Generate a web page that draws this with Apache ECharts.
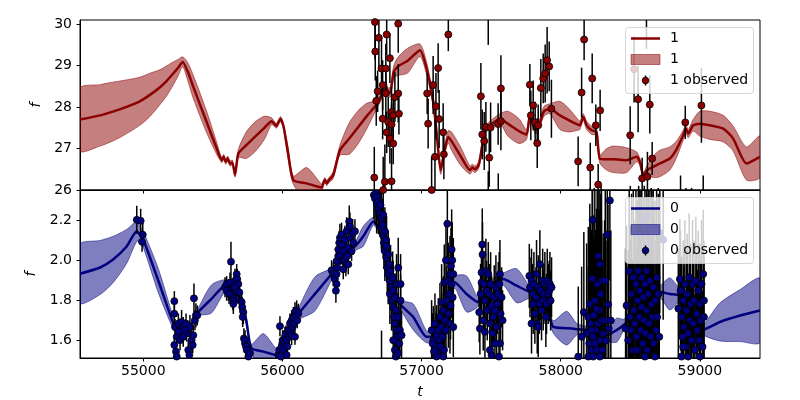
<!DOCTYPE html>
<html><head><meta charset="utf-8">
<script src="https://cdn.jsdelivr.net/npm/echarts@6/dist/echarts.min.js"></script>
<style>html,body{margin:0;padding:0;background:#fff}#c{width:800px;height:400px}</style>
</head><body><div id="c"></div>
<script>
// ---------- tick labels ----------
const xTicks = [55000, 56000, 57000, 58000, 59000];
const yTicksTop = [26, 27, 28, 29, 30];
const yTicksBot = [1.6, 1.8, 2.0, 2.2];

// ---------- model, series "1" (top) ----------
const tTop = [54545,54690,54760,54835,54975,55050,55120,55170,55215,55250,55283,55320,55360,55455,55530,55551,55565,55578,55592,55607,55622,55640,55659,55683,55740,55802,55870,55922,55945,55958,55975,55987,56000,56011,56040,56078,56174,56282,56295,56306,56318,56330,56365,56413,56480,56545,56610,56677,56712,56740,56760,56775,56800,56830,56900,56988,57036,57084,57110,57137,57165,57191,57215,57280,57347,57365,57385,57410,57430,57455,57491,57563,57620,57700,57754,57778,57800,57821,57850,57880,57922,57994,58060,58120,58138,58162,58186,58222,58257,58281,58330,58377,58473,58545,58569,58593,58621,58665,58712,58784,58832,58880,58899,58916,58952,59000,59072,59168,59239,59335,59431];
const meanTop = [27.70,27.80,27.87,27.95,28.14,28.30,28.48,28.64,28.81,28.95,29.09,28.85,28.48,27.64,26.98,26.80,26.72,26.80,26.68,26.76,26.64,26.66,26.37,26.88,27.08,27.28,27.50,27.66,27.58,27.55,27.66,27.71,27.62,27.48,26.90,26.24,26.16,26.06,26.18,26.24,26.16,26.22,26.36,26.96,27.24,27.52,27.80,28.06,28.28,28.52,28.36,28.36,28.85,28.98,29.12,29.37,28.93,28.12,27.30,26.48,26.95,27.28,27.18,26.82,26.48,26.54,26.50,26.60,26.95,27.44,27.56,27.72,27.60,27.42,27.34,27.80,27.60,27.44,27.62,27.90,27.96,27.80,27.68,27.58,27.56,27.76,27.56,27.44,27.40,26.75,26.74,26.74,26.72,26.80,26.68,26.36,26.48,26.56,26.64,26.76,26.98,27.32,27.48,27.36,27.56,27.60,27.56,27.48,27.24,26.64,26.80];
const hwTop = [0.76,0.74,0.72,0.68,0.58,0.52,0.42,0.36,0.28,0.20,0.12,0.22,0.28,0.26,0.14,0.08,0.06,0.06,0.06,0.06,0.06,0.06,0.06,0.10,0.32,0.36,0.28,0.08,0.06,0.06,0.06,0.06,0.06,0.06,0.14,0.10,0.38,0.08,0.06,0.06,0.06,0.06,0.08,0.12,0.38,0.40,0.30,0.10,0.10,0.10,0.10,0.12,0.15,0.22,0.30,0.15,0.15,0.12,0.12,0.10,0.10,0.15,0.22,0.22,0.10,0.08,0.08,0.08,0.10,0.08,0.10,0.12,0.30,0.30,0.12,0.08,0.10,0.10,0.10,0.12,0.12,0.34,0.28,0.14,0.10,0.08,0.10,0.10,0.08,0.10,0.26,0.32,0.30,0.12,0.08,0.06,0.12,0.26,0.32,0.28,0.20,0.12,0.10,0.10,0.14,0.30,0.34,0.32,0.30,0.40,0.50];

// ---------- model, series "0" (bottom) ----------
const tBot = [54545,54690,54785,54880,54953,54975,55000,55108,55216,55240,55270,55300,55330,55360,55395,55490,55588,55640,55700,55740,55776,55862,55958,55985,56030,56070,56115,56233,56353,56400,56450,56521,56581,56653,56700,56740,56790,56844,56940,57035,57083,57130,57190,57239,57323,57407,57430,57500,57586,57683,57778,57850,57900,57945,58042,58113,58160,58230,58330,58401,58450,58520,58600,58712,58784,58856,58920,58980,59012,59144,59290,59431];
const meanBot = [1.934,1.965,2.006,2.07,2.146,2.13,2.105,1.899,1.685,1.655,1.68,1.67,1.66,1.70,1.743,1.808,1.874,1.86,1.80,1.70,1.562,1.545,1.528,1.55,1.62,1.69,1.734,1.833,1.932,1.98,2.03,2.07,2.121,2.195,2.15,2.03,1.88,1.784,1.718,1.619,1.62,1.66,1.78,1.891,1.833,1.792,1.87,1.885,1.907,1.874,1.842,1.83,1.78,1.669,1.662,1.657,1.655,1.645,1.627,1.652,1.677,1.72,1.78,1.842,1.833,1.825,1.78,1.70,1.652,1.693,1.725,1.75];
const hwBot = [0.147,0.135,0.115,0.085,0.05,0.04,0.04,0.06,0.03,0.02,0.02,0.02,0.02,0.02,0.02,0.07,0.03,0.02,0.02,0.02,0.02,0.09,0.03,0.02,0.02,0.02,0.03,0.085,0.03,0.02,0.02,0.02,0.05,0.02,0.02,0.02,0.02,0.02,0.065,0.03,0.02,0.02,0.02,0.03,0.09,0.02,0.02,0.02,0.03,0.085,0.03,0.02,0.02,0.03,0.084,0.03,0.02,0.02,0.03,0.06,0.03,0.02,0.02,0.03,0.08,0.03,0.02,0.02,0.02,0.095,0.13,0.16];

// ---------- observations [t, f, error] ----------
const obsTop = [
 [56665,30.05,0.9],[56667,29.34,0.7],[56693,29.67,0.8],[56674,28.15,0.6],[56684,28.38,0.5],[56720,28.53,0.6],
 [56712,28.93,0.7],[56743,28.93,0.6],[56749,29.75,0.5],[56772,29.18,0.6],[56720,27.72,0.5],[56743,28.33,0.6],
 [56760,27.64,0.6],[56784,27.58,0.5],[56784,27.88,0.6],[56796,27.80,0.5],[56808,28.24,0.6],[56832,28.33,0.7],
 [56837,27.84,0.5],[56749,27.39,0.5],[56772,27.24,0.6],[56796,27.12,0.5],[56832,30.01,0.7],[56660,26.30,0.74],
 [56736,26.20,0.9],[56784,26.21,0.8],[56724,26.00,0.8],[57040,28.33,0.5],[57047,27.60,0.6],[57083,28.53,0.7],
 [57103,28.02,0.8],[57119,28.94,0.6],[57126,27.71,0.7],[57096,26.80,0.9],[57072,26.00,0.8],[57192,29.75,0.4],
 [57155,27.39,0.7],[57160,26.86,0.6],[57426,28.26,0.8],[57436,27.34,0.6],[57450,27.18,0.7],[57462,27.52,0.6],
 [57496,27.51,0.6],[57486,26.78,0.7],[57550,27.59,0.5],[57570,27.66,0.7],[57570,28.45,0.8],[57778,28.54,0.5],
 [57785,27.80,0.6],[57802,28.04,0.6],[57816,27.63,0.5],[57838,27.56,0.5],[57831,27.13,0.6],[57857,28.46,0.7],
 [57874,28.69,0.6],[57888,28.81,0.7],[57902,29.13,0.8],[57917,28.98,0.6],[57933,27.96,0.7],[58168,29.63,0.5],
 [58150,28.35,0.6],[58226,28.69,0.6],[58283,27.92,0.5],[58252,27.56,0.5],[58125,26.69,0.6],[58212,26.54,0.6],
 [58269,26.13,0.5],[58499,27.32,0.7],[58527,28.91,0.8],[58556,28.19,0.8],[58640,28.06,0.7],[58585,26.28,0.5],
 [58623,26.32,0.6],[58657,26.76,0.4],[58895,27.63,0.4],[59011,28.04,0.9],[57479,30.30,0.8],[58616,30.60,1.2],
 [57479,25.70,0.75],[57551,25.60,0.8],[58861,25.60,0.75],[59024,25.60,0.75],[58210,25.40,0.65],[58240,25.30,0.75],
 [58290,25.50,0.6],[58500,25.40,0.7],[58560,25.50,0.6],[58600,25.30,0.8],[58650,25.45,0.6],[58700,25.40,0.65],
 [58900,25.30,0.75],[58940,25.50,0.55]
];
const obsBottom = [
 // ~55000
 [54953,2.203,0.07],[54981,2.198,0.06],[54996,2.129,0.06],[54991,2.093,0.05],
 // 55220-55390
 [55223,1.797,0.05],[55223,1.734,0.05],[55228,1.668,0.04],[55240,1.619,0.05],[55223,1.578,0.04],[55235,1.545,0.05],
 [55252,1.685,0.05],[55264,1.652,0.04],[55275,1.693,0.06],[55287,1.668,0.05],[55307,1.685,0.05],[55311,1.635,0.04],
 [55323,1.553,0.05],[55331,1.528,0.04],[55335,1.668,0.06],[55347,1.602,0.05],[55355,1.578,0.04],[55359,1.627,0.05],
 [55371,1.701,0.05],[55378,1.726,0.06],[55364,1.811,0.074],[55388,1.726,0.05],[55240,1.520,0.04],[55264,1.602,0.05],
 [55287,1.619,0.05],[55252,1.644,0.04],[55299,1.652,0.05],
 // 55590-55770
 [55587,1.866,0.05],[55599,1.882,0.04],[55611,1.849,0.05],[55623,1.890,0.05],[55630,1.994,0.1],[55635,1.833,0.05],
 [55642,1.816,0.06],[55647,1.800,0.05],[55652,1.874,0.05],[55659,1.899,0.06],[55671,1.932,0.05],[55675,1.907,0.05],
 [55683,1.882,0.06],[55666,1.849,0.05],[55690,1.841,0.05],[55695,1.800,0.06],[55707,1.792,0.05],[55711,1.767,0.05],
 [55719,1.742,0.06],[55714,1.718,0.05],[55723,1.611,0.05],[55731,1.586,0.04],[55738,1.570,0.05],[55743,1.553,0.04],
 [55755,1.520,0.05],[55767,1.537,0.04],[55731,1.602,0.05],[55599,1.849,0.05],[55616,1.833,0.05],[55647,1.783,0.05],
 [55659,1.866,0.05],
 // 55970-56115
 [55970,1.528,0.04],[55982,1.672,0.05],[55977,1.553,0.04],[55994,1.570,0.04],[56001,1.602,0.05],[56006,1.545,0.04],
 [56011,1.586,0.04],[56018,1.619,0.05],[56025,1.635,0.04],[56030,1.602,0.04],[56035,1.570,0.04],[56042,1.652,0.05],
 [56049,1.619,0.04],[56054,1.685,0.05],[56059,1.644,0.04],[56066,1.701,0.05],[56073,1.668,0.04],[56078,1.718,0.05],
 [56083,1.685,0.04],[56090,1.742,0.05],[56097,1.726,0.04],[56102,1.751,0.05],[56106,1.701,0.04],[56114,1.734,0.05],
 [55989,1.520,0.04],[56030,1.528,0.04],[56066,1.627,0.05],[56090,1.619,0.04],
 // 56350-56520
 [56353,1.951,0.05],[56365,1.932,0.06],[56377,1.907,0.05],[56384,1.849,0.06],[56389,1.882,0.05],[56394,1.964,0.06],
 [56389,1.997,0.05],[56401,2.022,0.06],[56401,2.055,0.05],[56408,2.088,0.06],[56413,2.113,0.07],[56420,2.030,0.05],
 [56425,2.129,0.06],[56432,2.080,0.05],[56437,2.047,0.06],[56442,1.997,0.05],[56449,2.104,0.07],[56456,1.981,0.06],
 [56461,2.146,0.07],[56466,2.022,0.05],[56473,2.063,0.06],[56480,2.195,0.08],[56485,2.170,0.07],[56490,2.113,0.06],
 [56497,2.047,0.05],[56504,2.137,0.07],[56509,2.088,0.06],[56521,2.146,0.06],[56389,1.932,0.05],[56437,1.956,0.05],
 [56473,1.981,0.05],
 // 56650-56860
 [56657,2.327,0.12],[56665,2.310,0.13],[56672,2.335,0.12],[56677,2.285,0.15],[56684,2.318,0.12],[56689,2.261,0.13],
 [56693,2.294,0.15],[56701,2.236,0.12],[56705,2.277,0.13],[56712,2.211,0.15],[56712,2.162,0.12],[56720,2.178,0.13],
 [56724,2.129,0.12],[56724,2.228,0.15],[56729,2.088,0.13],[56736,2.146,0.12],[56736,2.047,0.15],[56744,2.104,0.13],
 [56748,2.014,0.12],[56748,2.071,0.15],[56753,1.964,0.13],[56760,2.030,0.12],[56760,1.932,0.15],[56767,1.981,0.13],
 [56772,1.899,0.12],[56772,1.833,0.15],[56777,1.948,0.13],[56784,1.866,0.12],[56784,1.800,0.15],[56792,1.915,0.13],
 [56796,1.767,0.12],[56796,1.849,0.15],[56801,1.718,0.13],[56808,1.816,0.12],[56808,1.685,0.15],[56815,1.751,0.13],
 [56820,1.652,0.12],[56820,1.882,0.15],[56825,1.619,0.13],[56832,1.718,0.12],[56832,1.964,0.15],[56839,1.586,0.13],
 [56844,1.652,0.12],[56849,1.882,0.15],[56849,1.800,0.13],[56808,1.553,0.12],[56815,1.520,0.13],[56856,1.627,0.12],
 [56832,1.537,0.13],[56796,1.602,0.12],[56712,1.45,0.2],
 // 57070-57230
 [57072,1.652,0.15],[57084,1.602,0.17],[57096,1.685,0.15],[57103,1.569,0.17],[57108,1.627,0.15],[57113,1.537,0.17],
 [57120,1.652,0.16],[57127,1.602,0.15],[57132,1.718,0.17],[57137,1.569,0.15],[57144,1.668,0.17],[57144,1.792,0.19],
 [57151,1.619,0.15],[57156,1.751,0.17],[57161,1.553,0.15],[57163,1.890,0.19],[57168,1.701,0.17],[57175,1.652,0.15],
 [57175,2.001,0.2],[57180,1.800,0.17],[57185,2.183,0.2],[57192,1.734,0.17],[57192,1.899,0.19],[57199,1.833,0.17],
 [57204,1.685,0.15],[57204,1.932,0.19],[57208,1.775,0.17],[57211,1.973,0.19],[57216,1.882,0.17],[57216,2.055,0.2],
 [57220,2.001,0.19],[57223,1.816,0.17],[57228,1.932,0.18],[57228,1.668,0.15],[57156,1.520,0.15],[57108,1.520,0.15],
 [57089,1.545,0.15],[57079,1.586,0.15],
 // 57410-57585
 [57414,1.742,0.15],[57419,1.660,0.13],[57424,1.833,0.15],[57431,1.890,0.16],[57431,1.940,0.15],[57436,2.080,0.18],
 [57438,2.030,0.16],[57443,1.701,0.15],[57448,1.882,0.16],[57455,1.800,0.15],[57462,1.948,0.16],[57467,1.849,0.15],
 [57472,1.751,0.15],[57479,1.932,0.16],[57486,1.833,0.15],[57491,1.685,0.13],[57496,1.882,0.16],[57503,1.775,0.15],
 [57503,1.528,0.13],[57510,1.635,0.15],[57515,1.718,0.15],[57522,1.816,0.16],[57527,1.751,0.15],[57534,1.866,0.16],
 [57539,1.668,0.15],[57544,1.783,0.15],[57551,1.833,0.16],[57556,1.520,0.13],[57558,1.882,0.16],[57563,1.932,0.17],
 [57568,1.734,0.15],[57575,1.816,0.15],[57582,1.701,0.15],[57563,1.586,0.13],[57527,1.586,0.13],[57491,1.553,0.13],
 [57455,1.644,0.13],
 // 57770-57935
 [57774,1.923,0.16],[57779,1.866,0.15],[57790,1.899,0.16],[57798,1.833,0.15],[57802,1.783,0.15],[57807,1.882,0.16],
 [57814,1.734,0.15],[57822,1.816,0.15],[57826,1.932,0.17],[57831,1.685,0.15],[57838,1.866,0.16],[57846,1.783,0.15],
 [57850,1.981,0.17],[57855,1.849,0.15],[57862,1.751,0.15],[57870,1.899,0.16],[57874,1.800,0.15],[57879,1.833,0.15],
 [57886,1.882,0.16],[57893,1.718,0.15],[57898,1.783,0.15],[57903,1.899,0.16],[57910,1.833,0.15],[57917,1.849,0.15],
 [57922,1.882,0.16],[57927,1.800,0.15],[57934,1.866,0.15],[57790,1.685,0.15],[57838,1.668,0.15],
 // 58125-58370
 [58126,1.520,0.35],[58166,1.742,0.4],[58186,1.635,0.45],[58198,1.718,0.45],[58205,1.586,0.5],[58209,1.783,0.5],
 [58214,1.685,0.5],[58221,1.553,0.45],[58226,1.910,0.5],[58229,2.203,0.5],[58233,1.619,0.5],[58238,1.726,0.5],
 [58245,1.800,0.55],[58250,1.652,0.5],[58257,1.553,0.5],[58262,1.882,0.55],[58269,1.685,0.5],[58269,2.022,0.5],
 [58277,1.751,0.5],[58281,1.602,0.5],[58281,1.981,0.55],[58286,1.833,0.5],[58293,1.701,0.5],[58293,1.899,0.5],
 [58300,1.553,0.45],[58305,1.635,0.5],[58198,1.520,0.45],[58233,1.520,0.5],[58257,1.759,0.5],[58221,1.652,0.5],
 [58245,1.586,0.5],[58281,1.520,0.5],[58353,2.300,0.4],[58334,2.129,0.45],[58150,1.619,0.35],[58315,1.700,0.5],
 [58325,1.600,0.5],[58340,1.780,0.5],[58345,1.660,0.45],[58360,1.700,0.45],[58320,1.900,0.5],
 // 58460-58740
 [58473,1.775,0.4],[58485,1.602,0.45],[58492,1.948,0.5],[58497,1.718,0.45],[58502,1.652,0.45],[58509,1.833,0.5],
 [58516,1.553,0.45],[58521,1.915,0.5],[58526,1.751,0.45],[58533,1.685,0.45],[58540,1.882,0.5],[58545,1.619,0.45],
 [58550,1.800,0.5],[58557,1.948,0.5],[58557,1.553,0.45],[58564,1.718,0.45],[58569,1.849,0.5],[58574,1.652,0.45],
 [58581,1.915,0.5],[58581,1.767,0.45],[58588,1.586,0.45],[58593,1.816,0.5],[58598,1.701,0.45],[58605,1.882,0.5],
 [58612,1.635,0.45],[58617,1.948,0.5],[58617,1.751,0.45],[58621,1.553,0.45],[58629,1.833,0.5],[58636,1.685,0.45],
 [58641,1.899,0.5],[58645,1.619,0.45],[58653,1.783,0.5],[58660,1.718,0.45],[58665,1.866,0.5],[58669,1.586,0.45],
 [58677,1.800,0.5],[58684,1.652,0.45],[58689,1.915,0.5],[58693,1.718,0.45],[58701,1.833,0.5],[58708,1.619,0.45],
 [58581,2.195,0.45],[58617,2.220,0.45],[58665,2.170,0.45],[58712,2.137,0.4],[58736,2.104,0.4],[58629,2.080,0.45],
 [58569,2.129,0.45],[58653,2.129,0.45],[58545,1.553,0.4],[58605,1.520,0.4],[58677,1.520,0.4],[58466,1.660,0.4],
 // 58840-59035
 [58856,1.907,0.3],[58861,1.849,0.3],[58868,1.718,0.3],[58875,1.619,0.28],[58880,1.800,0.3],[58885,1.668,0.3],
 [58892,1.882,0.32],[58899,1.569,0.28],[58904,1.751,0.3],[58909,1.833,0.3],[58916,1.635,0.3],[58923,1.915,0.32],
 [58928,1.701,0.3],[58933,1.783,0.3],[58940,1.602,0.28],[58947,1.882,0.32],[58952,1.685,0.3],[58957,1.800,0.3],
 [58964,1.553,0.28],[58971,1.899,0.32],[58976,1.734,0.3],[58981,1.652,0.3],[58988,1.849,0.3],[58995,1.602,0.28],
 [59000,1.783,0.3],[59005,1.701,0.3],[59012,1.882,0.32],[59019,1.569,0.28],[59024,1.932,0.32],[59029,1.800,0.3],
 [59029,1.718,0.3],[58868,1.520,0.28],[58916,1.520,0.28],[59000,1.520,0.28],[58880,1.569,0.28],[58845,1.760,0.3]
];

// ---------- styles ----------
const RED = '#8b0000', RED_A = 'rgba(139,0,0,0.5)';
const NAVY = '#000080', NAVY_A = 'rgba(0,0,128,0.5)';
const FONT = 'DejaVu Sans';

function bandSeries(idx, ts, means, hws, col) {
  return {
    type: 'custom', xAxisIndex: idx, yAxisIndex: idx, z: 1, clip: true, silent: true,
    data: [[ts[0], means[0]]],
    renderItem: function (params, api) {
      const up = [], lo = [];
      for (let i = 0; i < ts.length; i++) {
        up.push(api.coord([ts[i], means[i] + hws[i]]));
        lo.push(api.coord([ts[i], means[i] - hws[i]]));
      }
      return { type: 'polygon', shape: { points: up.concat(lo.reverse()), smooth: 0.25 },
               style: { fill: col, stroke: col, lineWidth: 1 } };
    }
  };
}
function lineSeries(idx, ts, means, col) {
  return { type: 'line', xAxisIndex: idx, yAxisIndex: idx, z: 2, clip: true, silent: true,
    showSymbol: false, symbol: 'none', smooth: 0.2, data: ts.map((t, i) => [t, means[i]]),
    lineStyle: { color: col, width: 2.5 } };
}
function errSeries(idx, obs, w) {
  return { type: 'custom', xAxisIndex: idx, yAxisIndex: idx, z: 3, clip: true, silent: true,
    data: obs, encode: { x: 0, y: 1 },
    renderItem: function (params, api) {
      const t = api.value(0), f = api.value(1), e = api.value(2);
      const a = api.coord([t, f - e]), b = api.coord([t, f + e]);
      return { type: 'line', shape: { x1: a[0], y1: a[1], x2: b[0], y2: b[1] },
               style: { stroke: '#000', lineWidth: w } };
    } };
}
function ptSeries(idx, obs, col) {
  return { type: 'scatter', xAxisIndex: idx, yAxisIndex: idx, z: 4, clip: true, silent: true,
    data: obs.map(o => [o[0], o[1]]), symbol: 'circle', symbolSize: 7,
    itemStyle: { color: col, borderColor: '#000', borderWidth: 0.8, opacity: 1 } };
}
function xAx(idx, labels) {
  return { type: 'value', gridIndex: idx, min: 54545, max: 59432,
    axisLine: { show: true, onZero: false, lineStyle: { color: '#000', width: 1 } },
    axisTick: { show: true, inside: false, length: 3.5, customValues: xTicks, lineStyle: { color: '#000' } },
    axisLabel: { show: labels, customValues: xTicks, margin: 6, color: '#000', fontFamily: FONT, fontSize: 14,
                 formatter: v => String(v) },
    splitLine: { show: false },
    name: labels ? 't' : '', nameLocation: 'middle', nameGap: 27,
    nameTextStyle: { fontFamily: FONT, fontStyle: 'italic', fontSize: 14, color: '#000' } };
}
function yAx(idx, min, max, ticks, dec) {
  return { type: 'value', gridIndex: idx, min: min, max: max,
    axisLine: { show: true, onZero: false, lineStyle: { color: '#000', width: 1 } },
    axisTick: { show: true, inside: false, length: 3.5, customValues: ticks, lineStyle: { color: '#000' } },
    axisLabel: { customValues: ticks, margin: 8, color: '#000', fontFamily: FONT, fontSize: 14,
                 formatter: v => v.toFixed(dec) },
    splitLine: { show: false },
    name: 'f', nameLocation: 'middle', nameGap: 36, nameRotate: 90,
    nameTextStyle: { fontFamily: FONT, fontStyle: 'italic', fontSize: 14, color: '#000' } };
}
function legend(y0, col, colA, lab) {
  return [
    { type: 'rect', z: 100, shape: { x: 625.5, y: y0 + 0.5, width: 128, height: 66, r: 3 },
      style: { fill: 'rgba(255,255,255,0.8)', stroke: 'rgba(204,204,204,0.8)', lineWidth: 1 } },
    { type: 'line', z: 101, shape: { x1: 631, y1: y0 + 11.5, x2: 660, y2: y0 + 11.5 },
      style: { stroke: col, lineWidth: 2.5 } },
    { type: 'rect', z: 101, shape: { x: 631, y: y0 + 27.5, width: 29, height: 10 },
      style: { fill: colA, stroke: colA, lineWidth: 1 } },
    { type: 'line', z: 101, shape: { x1: 645.5, y1: y0 + 48.5, x2: 645.5, y2: y0 + 58.5 },
      style: { stroke: '#000', lineWidth: 1.5 } },
    { type: 'circle', z: 102, shape: { cx: 645.5, cy: y0 + 53.5, r: 3.3 },
      style: { fill: col, stroke: '#000', lineWidth: 0.8 } },
    { type: 'text', z: 101, x: 670, y: y0 + 11.5, style: { text: lab, font: '14px "DejaVu Sans"', fill: '#000', verticalAlign: 'middle' } },
    { type: 'text', z: 101, x: 670, y: y0 + 32.5, style: { text: lab, font: '14px "DejaVu Sans"', fill: '#000', verticalAlign: 'middle' } },
    { type: 'text', z: 101, x: 670, y: y0 + 53.5, style: { text: lab + ' observed', font: '14px "DejaVu Sans"', fill: '#000', verticalAlign: 'middle' } }
  ];
}

const chart = echarts.init(document.getElementById('c'), null, { renderer: 'canvas' });
chart.setOption({
  animation: false,
  backgroundColor: '#fff',
  grid: [
    { left: 80, right: 40, top: 20, height: 170, show: true, borderColor: '#000', borderWidth: 1, backgroundColor: 'transparent' },
    { left: 80, right: 40, top: 190, height: 170, show: true, borderColor: '#000', borderWidth: 1, backgroundColor: 'transparent' }
  ],
  xAxis: [xAx(0, false), xAx(1, true)],
  yAxis: [yAx(0, 26, 30.1, yTicksTop, 0), yAx(1, 1.513, 2.352, yTicksBot, 1)],
  series: [
    bandSeries(0, tTop, meanTop, hwTop, RED_A), lineSeries(0, tTop, meanTop, RED),
    errSeries(0, obsTop, 1.5), ptSeries(0, obsTop, RED),
    bandSeries(1, tBot, meanBot, hwBot, NAVY_A), lineSeries(1, tBot, meanBot, NAVY),
    errSeries(1, obsBottom, 1.5), ptSeries(1, obsBottom, NAVY)
  ],
  graphic: { elements: legend(27, RED, RED_A, '1').concat(legend(197, NAVY, NAVY_A, '0')) }
});
</script></body></html>
